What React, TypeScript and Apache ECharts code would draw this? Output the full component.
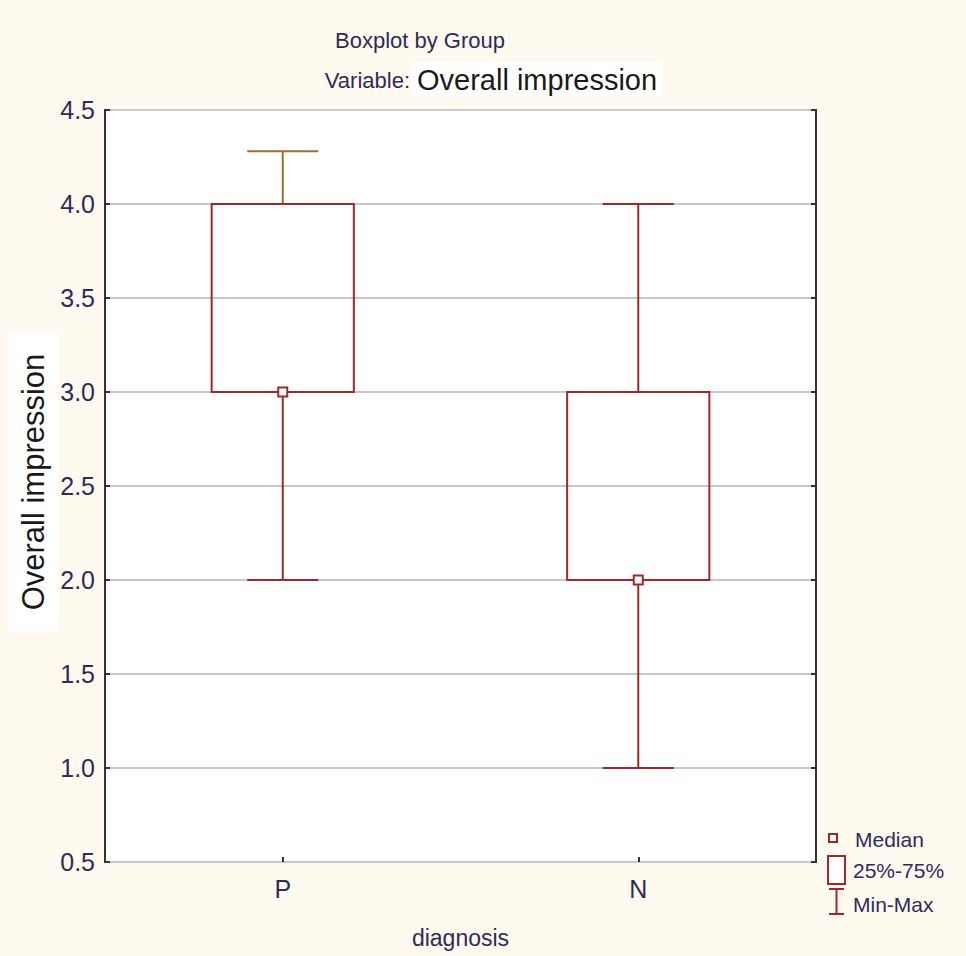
import React, { useEffect, useRef } from "react";
import * as echarts from "echarts";

const categories = ["P", "N"];
const minValues = [2, 1];
const q1Values = [3, 2];
const medianValues = [3, 2];
const q3Values = [4, 3];
const maxValues = [4.28, 4];
const yMin = 0.5;
const yMax = 4.5;
const yStep = 0.5;

const BOX = "#a0282c";
const UPPER = ["#a8692f", "#a0282c"];
const TXT = "#302a5a";
const FONT = "'Liberation Sans', Arial, sans-serif";

export default function App() {
  const ref = useRef<HTMLDivElement>(null);
  useEffect(() => {
    const chart = echarts.init(ref.current!, null, { renderer: "svg" });
    const boxData = categories.map((_, i) => [i, minValues[i], q1Values[i], medianValues[i], q3Values[i], maxValues[i]]);
    const medData = categories.map((c, i) => [i, medianValues[i]]);
    const option: any = {
      animation: false,
      backgroundColor: "#fffaf0",
      grid: {
        left: 105, top: 110, width: 711, height: 752,
        show: true, backgroundColor: "#ffffff", borderColor: "#333333", borderWidth: 2,
      },
      xAxis: {
        type: "category",
        data: categories,
        boundaryGap: true,
        axisLine: { show: false },
        axisTick: { show: true, inside: true, alignWithLabel: true, length: 5, lineStyle: { color: "#333", width: 2 } },
        axisLabel: { color: TXT, fontSize: 25, fontFamily: FONT, margin: 14 },
        splitLine: { show: false },
        name: "diagnosis",
        nameLocation: "middle",
        nameGap: 64,
        nameTextStyle: { color: TXT, fontSize: 23, fontFamily: FONT },
      },
      yAxis: [
        {
          type: "value", min: yMin, max: yMax, interval: yStep,
          axisLine: { show: false },
          axisTick: { show: true, inside: true, length: 5, lineStyle: { color: "#333", width: 2 } },
          axisLabel: { color: TXT, fontSize: 25, fontFamily: FONT, margin: 10, formatter: (v: number) => v.toFixed(1) },
          splitLine: { show: true, lineStyle: { color: "#c8c8c8", width: 2 } },
        },
        {
          type: "value", min: yMin, max: yMax, interval: yStep, position: "right",
          axisLine: { show: false },
          axisTick: { show: true, inside: true, length: 5, lineStyle: { color: "#333", width: 2 } },
          axisLabel: { show: false },
          splitLine: { show: false },
        },
      ],
      series: [
        {
          type: "custom",
          data: boxData,
          encode: { x: 0, y: [1, 2, 3, 4, 5] },
          z: 2,
          renderItem: (params: any, api: any) => {
            const i = api.value(0);
            const pMin = api.coord([i, api.value(1)]);
            const pQ1 = api.coord([i, api.value(2)]);
            const pQ3 = api.coord([i, api.value(4)]);
            const pMax = api.coord([i, api.value(5)]);
            const bw = api.size([1, 0])[0] * 0.4;
            const cw = bw * 0.5;
            const cx = pMin[0];
            const up = UPPER[params.dataIndex];
            const ls = (c: string) => ({ stroke: c, lineWidth: 2, fill: "none" });
            return {
              type: "group",
              children: [
                { type: "line", shape: { x1: cx, y1: pQ1[1], x2: cx, y2: pMin[1] }, style: ls(BOX) },
                { type: "line", shape: { x1: cx - cw / 2, y1: pMin[1], x2: cx + cw / 2, y2: pMin[1] }, style: ls(BOX) },
                { type: "line", shape: { x1: cx, y1: pQ3[1], x2: cx, y2: pMax[1] }, style: ls(up) },
                { type: "line", shape: { x1: cx - cw / 2, y1: pMax[1], x2: cx + cw / 2, y2: pMax[1] }, style: ls(up) },
                { type: "rect", shape: { x: cx - bw / 2, y: pQ3[1], width: bw, height: pQ1[1] - pQ3[1] }, style: ls(BOX) },
              ],
            };
          },
        },
        {
          type: "scatter",
          data: medData,
          symbol: "rect",
          symbolSize: 9,
          z: 5,
          itemStyle: { color: "#ffffff", borderColor: BOX, borderWidth: 2, opacity: 1 },
        },
      ],
      graphic: [
        { type: "text", style: { text: "Boxplot by Group", x: 420, y: 40, fill: TXT, fontSize: 22, fontFamily: FONT, align: "center", verticalAlign: "middle" } },
        { type: "text", style: { text: "Variable:", x: 410, y: 80, fill: TXT, fontSize: 22, fontFamily: FONT, align: "right", verticalAlign: "middle" } },
        { type: "rect", shape: { x: 412, y: 62, width: 250, height: 34 }, style: { fill: "#ffffff" } },
        { type: "text", style: { text: "Overall impression", x: 417, y: 80, fill: "#1a1a1a", fontSize: 29, fontFamily: FONT, align: "left", verticalAlign: "middle" } },
        { type: "rect", shape: { x: 8, y: 332, width: 50, height: 300 }, style: { fill: "#ffffff" } },
        { type: "text", x: 33, y: 482, rotation: Math.PI / 2, style: { text: "Overall impression", x: 0, y: 0, fill: "#1a1a1a", fontSize: 31, fontFamily: FONT, align: "center", verticalAlign: "middle" } },
        { type: "rect", shape: { x: 829, y: 834, width: 8, height: 8 }, style: { fill: "#ffffff", stroke: BOX, lineWidth: 2 } },
        { type: "rect", shape: { x: 828, y: 856, width: 17, height: 28 }, style: { fill: "#ffffff", stroke: BOX, lineWidth: 2 } },
        { type: "line", shape: { x1: 836.5, y1: 889, x2: 836.5, y2: 914 }, style: { stroke: BOX, lineWidth: 2 } },
        { type: "line", shape: { x1: 829, y1: 889, x2: 844, y2: 889 }, style: { stroke: BOX, lineWidth: 2 } },
        { type: "line", shape: { x1: 829, y1: 914, x2: 844, y2: 914 }, style: { stroke: BOX, lineWidth: 2 } },
        { type: "text", style: { text: "Median", x: 855, y: 839, fill: TXT, fontSize: 21, fontFamily: FONT, verticalAlign: "middle" } },
        { type: "text", style: { text: "25%-75%", x: 853, y: 870, fill: TXT, fontSize: 21, fontFamily: FONT, verticalAlign: "middle" } },
        { type: "text", style: { text: "Min-Max", x: 853, y: 904, fill: TXT, fontSize: 21, fontFamily: FONT, verticalAlign: "middle" } },
      ],
    };
    chart.setOption(option);
    return () => chart.dispose();
  }, []);
  return <div ref={ref} style={{ position: "fixed", left: 0, top: 0, width: 966, height: 956 }} />;
}
